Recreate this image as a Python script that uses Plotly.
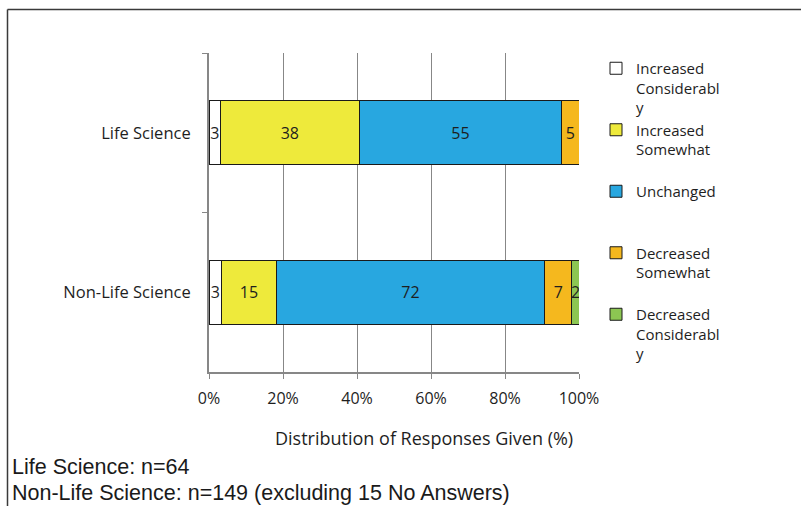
import plotly.graph_objects as go

categories = ["Life Science", "Non-Life Science"]
series_names = ["Increased Considerably", "Increased Somewhat", "Unchanged",
                "Decreased Somewhat", "Decreased Considerably"]
legend_labels = ["Increased<br>Considerabl<br>y", "Increased<br>Somewhat<br> ",
                 "Unchanged<br> <br> ", "Decreased<br>Somewhat<br> ",
                 "Decreased<br>Considerabl<br>y"]
inc_considerably = [3.1, 3.4]
inc_somewhat = [37.5, 14.8]
unchanged = [54.7, 72.5]
dec_somewhat = [4.7, 7.4]
dec_considerably = [0.0, 2.0]
colors = ["#FFFFFF", "#EEEA3B", "#28A7E0", "#F5B81E", "#8CC652"]
x_ticks = [0, 20, 40, 60, 80, 100]
x_tick_labels = ["0%", "20%", "40%", "60%", "80%", "100%"]
x_title = "Distribution of Responses Given (%)"
notes = ["Life Science: n=64", "Non-Life Science: n=149 (excluding 15 No Answers)"]

series = [inc_considerably, inc_somewhat, unchanged, dec_somewhat, dec_considerably]

FONT = "Open Sans"
TXT = "#1e1e1e"
fig = go.Figure()
for i, vals in enumerate(series):
    fig.add_trace(go.Bar(
        y=categories, x=vals, orientation="h", name=legend_labels[i],
        legendgroup=str(i),
        marker=dict(color=colors[i], line=dict(color="#1a1a1a", width=1)),
        text=[f"{v:.0f}" if v > 0 else "" for v in vals],
        textposition="inside", insidetextanchor="middle", textangle=0,
        insidetextfont=dict(family=FONT, size=16, color=TXT),
        hoverinfo="skip",
    ))

# plot-area geometry (pixels) for paper-coordinate helpers
L, R, T, B = 209, 579, 53, 372
W, H = R - L, B - T
def px(x): return (x - L) / W
def py(y): return (B - y) / H

fig.update_layout(
    width=801, height=506,
    margin=dict(l=L, r=801 - R, t=T, b=506 - B, autoexpand=False),
    paper_bgcolor="white", plot_bgcolor="white",
    barmode="stack", bargap=0.6,
    font=dict(family=FONT, size=16, color=TXT),
    uniformtext=dict(mode="show", minsize=16),
    showlegend=True,
    legend=dict(x=px(596), y=py(52), xanchor="left", yanchor="top",
                maxheight=480,
                traceorder="grouped", tracegroupgap=0, valign="top",
                font=dict(family=FONT, size=15, color=TXT),
                bgcolor="rgba(0,0,0,0)"),
    xaxis=dict(range=[0, 100], tickvals=x_ticks, ticktext=x_tick_labels,
               showgrid=True, gridcolor="#878787", gridwidth=1,
               showline=True, linecolor="#878787", linewidth=2,
               ticks="outside", ticklen=5, tickcolor="#878787",
               zeroline=False, fixedrange=True, ticklabelstandoff=6,
               tickfont=dict(family=FONT, size=16, color=TXT)),
    yaxis=dict(categoryorder="array", categoryarray=categories, autorange="reversed",
               showline=True, linecolor="#878787", linewidth=2,
               ticks="outside", ticklen=5, tickcolor="#878787", tickson="boundaries",
               showgrid=False, zeroline=False, ticklabelstandoff=13,
               tickfont=dict(family=FONT, size=16.5, color=TXT)),
)

# x-axis title (offset to the right as in the original)
fig.add_annotation(text=x_title, xref="paper", yref="paper",
                   x=px(423.5), y=py(438), xanchor="center", yanchor="middle",
                   showarrow=False, font=dict(family=FONT, size=18, color=TXT))

# outer frame (top and left edges)
fig.add_shape(type="line", xref="paper", yref="paper",
              x0=px(7.5), x1=px(801), y0=py(9.5), y1=py(9.5),
              line=dict(color="#3a3a3a", width=1.5))
fig.add_shape(type="line", xref="paper", yref="paper",
              x0=px(7.5), x1=px(7.5), y0=py(9.5), y1=py(506),
              line=dict(color="#3a3a3a", width=1.5))

for k, txt in enumerate(notes):
    fig.add_annotation(text=txt, xref="paper", yref="paper",
                       x=px(10), y=py(467 + 26 * k), xanchor="left", yanchor="middle",
                       showarrow=False,
                       font=dict(family="Liberation Sans, Arial", size=21.5, color="#1a1a1a"))

fig.write_html("out.html")
